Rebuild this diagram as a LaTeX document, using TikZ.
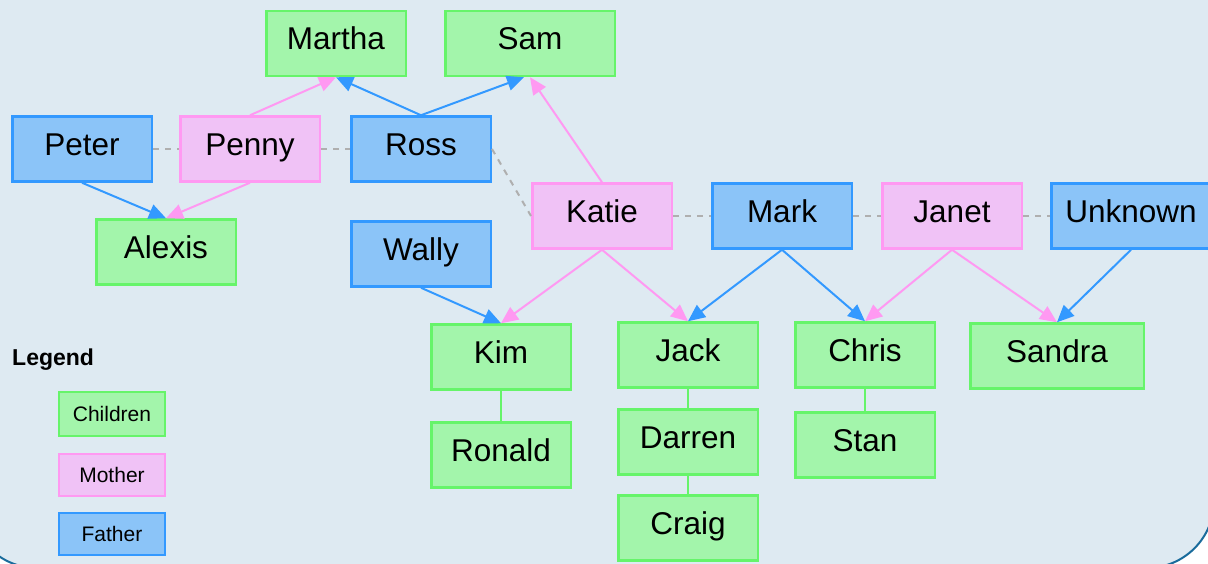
\documentclass[tikz,border=0pt]{standalone}
\usepackage{fontspec}
\setmainfont{Liberation Sans}
\usetikzlibrary{arrows.meta}
\definecolor{gfill}{HTML}{A3F5AB}
\definecolor{gline}{HTML}{66F46A}
\definecolor{pfill}{HTML}{F0C2F6}
\definecolor{pline}{HTML}{FF99F2}
\definecolor{bfill}{HTML}{8BC4F8}
\definecolor{bline}{HTML}{3399FF}
\definecolor{bgfill}{HTML}{DEEAF2}
\definecolor{bgline}{HTML}{1A6C9C}
\definecolor{dashgray}{HTML}{AFAFAF}
\tikzset{
  person/.style={draw, rectangle, line width=2.5pt, inner xsep=0pt, inner ysep=0pt,
    minimum width=139.5pt, text height=39pt, text depth=26pt,
    font=\fontsize{31.5}{36}\selectfont},
  child/.style={person, fill=gfill, draw=gline},
  mother/.style={person, fill=pfill, draw=pline},
  father/.style={person, fill=bfill, draw=bline},
  legbox/.style={draw, rectangle, line width=2pt, inner sep=0pt, minimum width=106pt,
    font=\fontsize{21}{24}\selectfont},
  parrow/.style={draw=pline, line width=2pt, -{Triangle[length=17pt,width=15pt]}, fill=pline},
  barrow/.style={draw=bline, line width=2pt, -{Triangle[length=17pt,width=15pt]}, fill=bline},
  spouse/.style={draw=dashgray, line width=2pt, dash pattern=on 6pt off 6pt},
  sibling/.style={draw=gline, line width=1.5pt},
}
\begin{document}
\begin{tikzpicture}[x=1pt, y=-1pt]
\useasboundingbox (0,0) rectangle (1208,564);
\clip (0,0) rectangle (1208,564);
\draw[fill=bgfill, draw=bgline, line width=2pt, rounded corners=67pt] (-30,-100) rectangle (1214,568);

% nodes
\node[child] (martha) at (336,43.5) {Martha};
\node[child, minimum width=169.5pt] (sam) at (530,43.5) {Sam};
\node[father] (peter) at (82,149) {Peter};
\node[mother] (penny) at (250,149) {Penny};
\node[father] (ross) at (421,149) {Ross};
\node[child] (alexis) at (166,252) {Alexis};
\node[father] (wally) at (421,254) {Wally};
\node[mother] (katie) at (602,216) {Katie};
\node[father] (mark) at (782,216) {Mark};
\node[mother] (janet) at (952,216) {Janet};
\node[father, minimum width=159.5pt] (unknown) at (1131,216) {Unknown};
\node[child] (kim) at (501,357) {Kim};
\node[child] (jack) at (688,355) {Jack};
\node[child] (chris) at (865,355) {Chris};
\node[child, minimum width=173.5pt] (sandra) at (1057,356) {Sandra};
\node[child] (ronald) at (501,455) {Ronald};
\node[child] (darren) at (688,442) {Darren};
\node[child] (stan) at (865,445) {Stan};
\node[child] (craig) at (688,528) {Craig};

% legend
\node[anchor=base west, inner sep=0pt, font=\fontsize{23}{26}\selectfont\bfseries] (legend) at (12,365) {Legend};
\node[legbox, fill=gfill, draw=gline, minimum height=44pt] (lchildren) at (112,414) {Children};
\node[legbox, fill=pfill, draw=pline, minimum height=42pt] (lmother) at (112,475) {Mother};
\node[legbox, fill=bfill, draw=bline, minimum height=42pt] (lfather) at (112,534) {Father};

% spouse links
\draw[spouse] (peter.east) -- (penny.west);
\draw[spouse] (penny.east) -- (ross.west);
\draw[spouse] (ross.east) -- (katie.west);
\draw[spouse] (katie.east) -- (mark.west);
\draw[spouse] (mark.east) -- (janet.west);
\draw[spouse] (janet.east) -- (unknown.west);

% sibling links
\draw[sibling] (kim.south) -- (ronald.north);
\draw[sibling] (jack.south) -- (darren.north);
\draw[sibling] (darren.south) -- (craig.north);
\draw[sibling] (chris.south) -- (stan.north);

% parent arrows
\draw[parrow] (penny.north) -- (martha.south);
\draw[barrow] (ross.north) -- (martha.south);
\draw[barrow] (ross.north) -- ([xshift=-6pt]sam.south);
\draw[parrow] (katie.north) -- (sam.south);
\draw[barrow] (peter.south) -- (alexis.north);
\draw[parrow] (penny.south) -- (alexis.north);
\draw[barrow] (wally.south) -- (kim.north);
\draw[parrow] (katie.south) -- (kim.north);
\draw[parrow] (katie.south) -- (jack.north);
\draw[barrow] (mark.south) -- (jack.north);
\draw[barrow] (mark.south) -- (chris.north);
\draw[parrow] (janet.south) -- (chris.north);
\draw[parrow] (janet.south) -- (sandra.north);
\draw[barrow] (unknown.south) -- (sandra.north);
\end{tikzpicture}
\end{document}
